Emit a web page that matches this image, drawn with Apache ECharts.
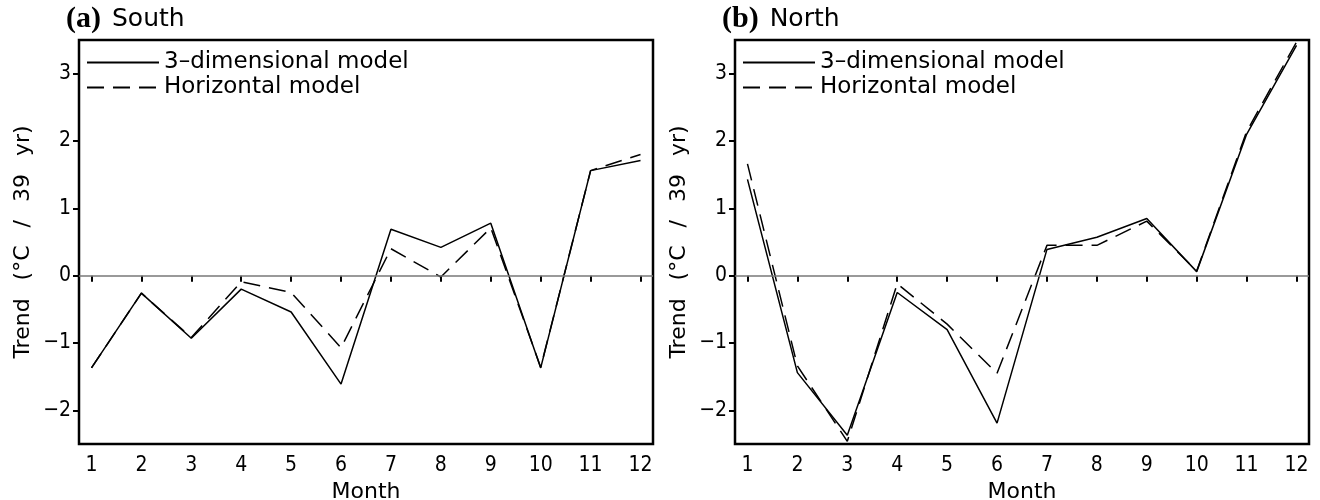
<!DOCTYPE html>
<html>
<head>
<meta charset="utf-8">
<script src="https://cdn.jsdelivr.net/npm/echarts@6/dist/echarts.min.js"></script>
<style>
  html, body { margin: 0; padding: 0; background: #fff; }
  #chart { width: 1320px; height: 500px; }
</style>
</head>
<body>
<div id="chart"></div>
<script>
// Monthly temperature trends (°C per 39 years)
const months = [1, 2, 3, 4, 5, 6, 7, 8, 9, 10, 11, 12];
const yTicks = [-2, -1, 0, 1, 2, 3];
const seriesNames = ['3\u2013dimensional model', 'Horizontal model'];
const panelTitles = [['(a)', 'South'], ['(b)', 'North']];
const yAxisTitle = 'Trend\u2002 (\u00B0C\u2002 /\u2002 39\u2002 yr)';

const south3d    = [-1.37, -0.26, -0.93, -0.20, -0.54, -1.61, 0.69, 0.42, 0.78, -1.37, 1.56, 1.71];
const southHoriz = [-1.37, -0.26, -0.92, -0.09, -0.25, -1.07, 0.40, -0.02, 0.71, -1.36, 1.56, 1.80];
const north3d    = [1.43, -1.44, -2.37, -0.25, -0.80, -2.19, 0.39, 0.57, 0.85, 0.06, 2.10, 3.42];
const northHoriz = [1.66, -1.34, -2.46, -0.12, -0.72, -1.45, 0.45, 0.45, 0.81, 0.07, 2.14, 3.47];

const panels = [[south3d, southHoriz], [north3d, northHoriz]];

const SANS = "'DejaVu Sans', sans-serif";
const NARROW = "'DejaVu Sans Condensed', 'Liberation Sans Narrow', 'DejaVu Sans', sans-serif";
const gridLefts = [79, 735];
const GRID_TOP = 40, GRID_W = 574, GRID_H = 404;
const DASH = [17, 9];

const fmtTick = v => (v < 0 ? '\u2212' + (-v) : String(v));

const grids = gridLefts.map(left => ({
  left: left, top: GRID_TOP, width: GRID_W, height: GRID_H,
  outerBoundsMode: 'none', containLabel: false,
  show: true, borderColor: '#000', borderWidth: 2.5, backgroundColor: 'transparent'
}));

const xAxes = gridLefts.map((_, i) => ({
  type: 'value', gridIndex: i, min: 0.75, max: 12.25,
  axisLine: { show: false },
  splitLine: { show: false },
  axisTick: { show: true, customValues: months, length: 6, inside: false,
              lineStyle: { color: '#000', width: 2 } },
  axisLabel: { customValues: months, color: '#000', fontFamily: NARROW,
               fontSize: 21, margin: 11 },
  name: 'Month', nameLocation: 'middle', nameGap: 33,
  nameTextStyle: { color: '#000', fontFamily: SANS, fontSize: 22 }
}));

const yAxes = gridLefts.map((_, i) => ({
  type: 'value', gridIndex: i, min: -2.5, max: 3.5,
  axisLine: { show: false },
  splitLine: { show: false },
  axisTick: { show: true, customValues: yTicks, length: 6, inside: false,
              lineStyle: { color: '#000', width: 2 } },
  axisLabel: { customValues: yTicks, color: '#000', fontFamily: NARROW,
               fontSize: 21, margin: 8, formatter: fmtTick },
  name: yAxisTitle, nameLocation: 'middle', nameGap: 45, nameRotate: 90,
  nameTextStyle: { color: '#000', fontFamily: SANS, fontSize: 22 }
}));

const series = [];
panels.forEach((pair, i) => {
  pair.forEach((vals, k) => {
    const s = {
      name: seriesNames[k], type: 'line',
      xAxisIndex: i, yAxisIndex: i,
      data: months.map((m, j) => [m, vals[j]]),
      symbol: 'none', silent: true, animation: false,
      lineStyle: { color: '#000', width: 1.5, type: k === 0 ? 'solid' : DASH },
      itemStyle: { color: '#000' },
      z: 3
    };
    if (k === 0) {
      s.markLine = {
        silent: true, symbol: 'none', animation: false,
        label: { show: false },
        lineStyle: { color: '#777', width: 1.5, type: 'solid' },
        data: [{ yAxis: 0 }]
      };
    }
    series.push(s);
  });
});

const legends = gridLefts.map(left => ({
  data: seriesNames, orient: 'vertical', left: left + 7, top: 50, padding: 0,
  itemWidth: 72, itemHeight: 25, itemGap: 0,
  selectedMode: false,
  itemStyle: { color: 'transparent', borderColor: 'transparent', borderWidth: 0 },
  textStyle: { color: '#000', fontFamily: SANS, fontSize: 23, lineHeight: 25 }
}));

const titles = gridLefts.map((left, i) => ({
  left: left - 13, top: 4, padding: 0,
  text: '{b|' + panelTitles[i][0] + '}{n|' + panelTitles[i][1] + '}',
  textStyle: {
    fontWeight: 'normal',
    rich: {
      b: { fontFamily: "'Liberation Serif', serif", fontWeight: 'bold', fontSize: 30, color: '#000' },
      n: { fontFamily: SANS, fontWeight: 'normal', fontSize: 25, color: '#000', padding: [0, 0, 0, 11] }
    }
  }
}));

const chart = echarts.init(document.getElementById('chart'), null, { renderer: 'canvas' });
chart.setOption({
  animation: false,
  backgroundColor: '#fff',
  title: titles,
  legend: legends,
  grid: grids,
  xAxis: xAxes,
  yAxis: yAxes,
  series: series
});
</script>
</body>
</html>
